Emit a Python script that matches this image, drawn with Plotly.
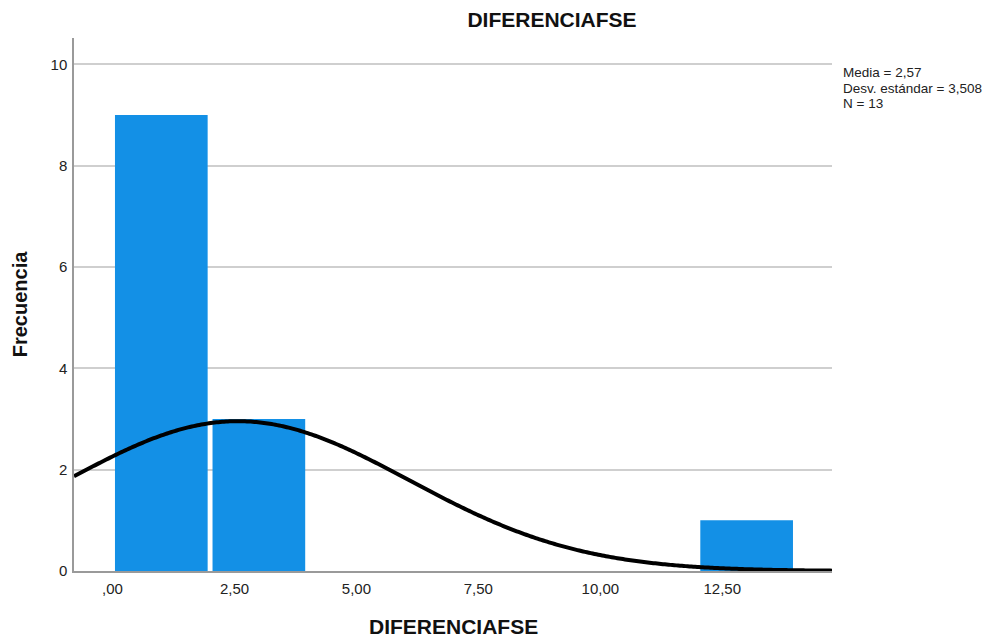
import numpy as np
import plotly.graph_objects as go

# Histogram bins (width 2) and their frequencies
bin_centers = [1.0, 3.0, 13.0]
frequencies = [9, 3, 1]
bin_width = 2.0

# Summary statistics
media = 2.57
desv = 3.508
n = 13

x_tick_vals = [0, 2.5, 5, 7.5, 10, 12.5]
x_tick_text = [",00", "2,50", "5,00", "7,50", "10,00", "12,50"]
y_tick_vals = [0, 2, 4, 6, 8, 10]

x_min, x_max = -0.79, 14.75

# Fitted normal curve scaled to counts per bin
xs = np.linspace(x_min, x_max, 400)
ys = n * bin_width * np.exp(-0.5 * ((xs - media) / desv) ** 2) / (desv * np.sqrt(2 * np.pi))

fig = go.Figure()
fig.add_trace(go.Bar(
    x=bin_centers, y=frequencies, width=1.9,
    marker=dict(color="#1390E6", line=dict(width=0)),
    showlegend=False, hoverinfo="skip",
))
fig.add_trace(go.Scatter(
    x=xs, y=ys, mode="lines",
    line=dict(color="black", width=4, simplify=False),
    showlegend=False, hoverinfo="skip",
))

font_family = "Liberation Sans, Arial, sans-serif"
W, H = 996, 639
plot_top, plot_bottom = 38, 571
plot_h = plot_bottom - plot_top


def es_num(value, decimals):
    return f"{value:.{decimals}f}".replace(".", ",")


def paper_y(y_px):
    return 1 - (y_px - plot_top) / plot_h


stats_lines = [
    f"Media = {es_num(media, 2)}",
    f"Desv. estándar = {es_num(desv, 3)}",
    f"N = {n}",
]
annotations = []
for i, line in enumerate(stats_lines):
    annotations.append(dict(
        x=1.0, y=paper_y(73 + 15 * i), xref="paper", yref="paper",
        xanchor="left", yanchor="middle", xshift=9, align="left", showarrow=False,
        text=line, font=dict(size=13.5, color="#222222"),
    ))

# x-axis title placed as an annotation so the plot area keeps its size
annotations.append(dict(
    x=0.5, y=paper_y(626), xref="paper", yref="paper",
    xanchor="center", yanchor="middle", showarrow=False,
    text="<b>DIFERENCIAFSE</b>", font=dict(size=21, color="#111111"),
))

fig.update_layout(
    width=W, height=H,
    margin=dict(l=74, r=164, t=plot_top, b=H - plot_bottom, autoexpand=False),
    paper_bgcolor="white", plot_bgcolor="white",
    font=dict(family=font_family, size=15, color="#222222"),
    title=dict(text="<b>DIFERENCIAFSE</b>", x=552 / W, xanchor="center",
               y=1 - 20 / H, yanchor="middle",
               font=dict(size=21, color="#111111")),
    xaxis=dict(
        range=[x_min, x_max], tickvals=x_tick_vals, ticktext=x_tick_text,
        showgrid=False, zeroline=False, showline=True, linecolor="#9a9a9a",
        linewidth=1.5, ticks="", ticklabelstandoff=3, automargin=False,
    ),
    yaxis=dict(
        range=[0, 10.52], tickvals=y_tick_vals,
        showgrid=True, gridcolor="#cfcfcf", gridwidth=1.5,
        zeroline=False, showline=True, linecolor="#9a9a9a", linewidth=1.5,
        ticks="", ticklabelstandoff=2, automargin=False,
        title=dict(text="<b>Frecuencia</b>", font=dict(size=20, color="#111111"),
                   standoff=18),
    ),
    annotations=annotations,
)

fig.write_html("out.html")
